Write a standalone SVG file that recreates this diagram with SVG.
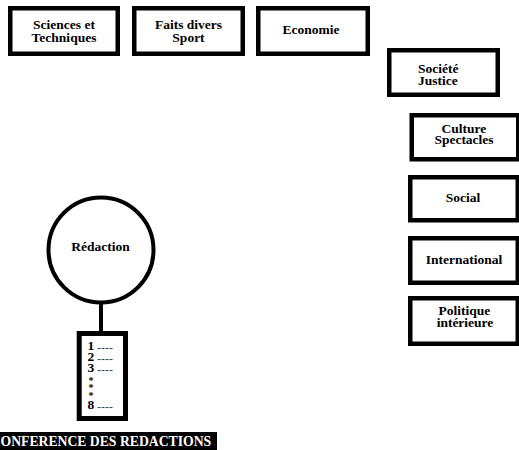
<svg xmlns="http://www.w3.org/2000/svg" width="519" height="450" viewBox="0 0 519 450">
<style>
.box{fill:#fff;stroke:#000;stroke-width:4.5}
.lbl{font-family:"Liberation Serif","Times New Roman",serif;font-weight:bold;font-size:13.5px;fill:#000;text-anchor:middle}
.lst{font-family:"Liberation Serif","Times New Roman",serif;font-weight:bold;font-size:13.5px;fill:#000}
.dash{font-family:"Liberation Sans",Arial,sans-serif;font-weight:normal;font-size:12px;fill:#444}
.star{font-size:10px}
.conn{stroke:#000;stroke-width:4;fill:none}
</style>
<rect width="519" height="450" fill="#fff"/>
<g id="connectors">
<line class="conn" x1="101" y1="304" x2="101" y2="333"/>
</g>
<g id="sciences">
<rect class="box" x="10.25" y="8.25" width="107.5" height="45.5"/>
<text class="lbl" x="64" y="29">Sciences et</text>
<text class="lbl" x="64" y="41.5">Techniques</text>
</g>
<g id="faits-divers">
<rect class="box" x="134.25" y="8.25" width="108.5" height="45.5"/>
<text class="lbl" x="188.5" y="29">Faits divers</text>
<text class="lbl" x="188.5" y="41.5">Sport</text>
</g>
<g id="economie">
<rect class="box" x="258.25" y="8.25" width="109.5" height="45.5"/>
<text class="lbl" x="311" y="33.5">Economie</text>
</g>
<g id="societe">
<rect class="box" x="389.25" y="50.25" width="108.5" height="44.5"/>
<text class="lbl" x="418" y="73" style="text-anchor:start">Société</text>
<text class="lbl" x="418" y="85" style="text-anchor:start">Justice</text>
</g>
<g id="culture">
<rect class="box" x="411.75" y="115.25" width="106.5" height="44"/>
<text class="lbl" x="464" y="132.5">Culture</text>
<text class="lbl" x="464" y="144">Spectacles</text>
</g>
<g id="social">
<rect class="box" x="410.25" y="177.25" width="107.5" height="43"/>
<text class="lbl" x="463" y="201.5">Social</text>
</g>
<g id="international">
<rect class="box" x="410.25" y="238.25" width="107.5" height="44.5"/>
<text class="lbl" x="464" y="263.5">International</text>
</g>
<g id="politique">
<rect class="box" x="410.25" y="298.25" width="107.5" height="45.5"/>
<text class="lbl" x="464.5" y="314.5">Politique</text>
<text class="lbl" x="465" y="326.5">intérieure</text>
</g>
<g id="redaction">
<circle cx="101" cy="250" r="52.5" fill="#fff" stroke="#000" stroke-width="4"/>
<text class="lbl" x="100.5" y="251">Rédaction</text>
</g>
<g id="liste">
<rect x="79.2" y="333.5" width="46.3" height="85" fill="#fff" stroke="#000" stroke-width="5"/>
<text class="lst"><tspan x="87.5" y="350">1</tspan><tspan class="dash" x="97" y="352">----</tspan><tspan x="87.5" y="360.5">2</tspan><tspan class="dash" x="97" y="362.5">----</tspan><tspan x="87.5" y="372">3</tspan><tspan class="dash" x="97" y="374">----</tspan><tspan class="star" x="88.5" y="383.5">*</tspan><tspan class="star" x="88.5" y="391">*</tspan><tspan class="star" x="88.5" y="398.5">*</tspan><tspan x="87.5" y="409">8</tspan><tspan class="dash" x="97" y="411">----</tspan></text>
</g>
<g id="conference">
<rect x="0" y="432" width="217" height="18" fill="#000"/>
<text x="0.5" y="446" style="font-family:'Liberation Serif','Times New Roman',serif;font-weight:bold;font-size:13.7px;fill:#fff">ONFERENCE DES REDACTIONS</text>
</g>
</svg>
